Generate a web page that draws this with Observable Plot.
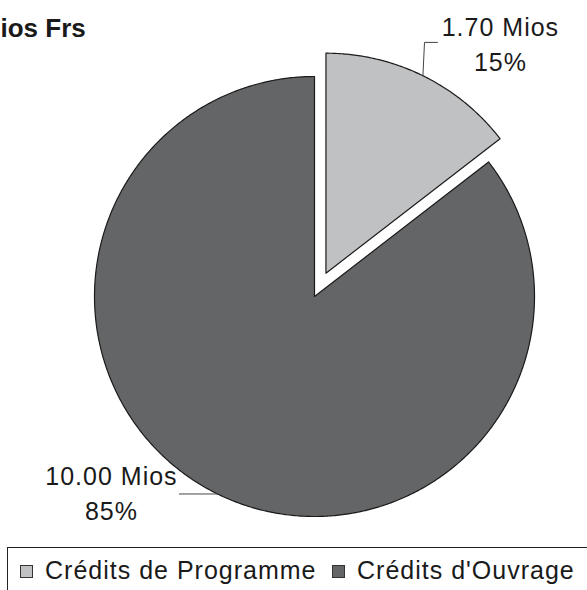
<!DOCTYPE html>
<html>
<head>
<meta charset="utf-8">
<script src="https://cdn.jsdelivr.net/npm/d3@7"></script>
<script src="https://cdn.jsdelivr.net/npm/@observablehq/plot@0.6"></script>
<style>
  html, body { margin: 0; padding: 0; background: #fff; }
  body { width: 587px; height: 590px; overflow: hidden; position: relative; font-family: "Liberation Sans", Arial, sans-serif; }
  #chart svg { display: block; font-family: "Liberation Sans", Arial, sans-serif; }
  #chart svg text { letter-spacing: 1px; }
  #chart svg g[font-weight="bold"] text { letter-spacing: 0; }
  #legend { position: absolute; left: 7px; top: 547px; width: 620px; height: 70px; border: 1px solid #222; box-sizing: border-box; }
  #legend .sw { position: absolute; top: 17px; width: 13px; height: 13px; border: 1px solid #333; box-sizing: border-box; }
  #legend .lt { position: absolute; top: 7px; font-size: 25px; line-height: 30px; letter-spacing: 1px; color: #1a1a1a; white-space: nowrap; }
</style>
</head>
<body>
<div id="chart"></div>
<div id="legend"></div>
<script>
// ---- data ----
const categories = ["Crédits de Programme", "Crédits d'Ouvrage"];
const values = [1.70, 10.00];
const valueLabels = ["1.70 Mios", "10.00 Mios"];
const explode = [true, false];
const title = "ios Frs";

// ---- styles ----
const colors = ["#c0c1c3", "#646567"];
const explodeDist = 0.118;

const total = d3.sum(values);
const pie = d3.pie().sort(null).startAngle(0).endAngle(2 * Math.PI)(values);

const polys = [];
const slices = pie.map((p, i) => {
  const m = (p.startAngle + p.endAngle) / 2;
  const ox = explode[i] ? explodeDist * Math.sin(m) : 0;
  const oy = explode[i] ? explodeDist * Math.cos(m) : 0;
  const pts = [{cat: categories[i], x: ox, y: oy}];
  const n = Math.ceil((p.endAngle - p.startAngle) / (Math.PI / 360));
  for (let k = 0; k <= n; k++) {
    const a = p.startAngle + (p.endAngle - p.startAngle) * k / n;
    pts.push({cat: categories[i], x: ox + Math.sin(a), y: oy + Math.cos(a)});
  }
  polys.push(...pts);
  return {i, m, ox, oy, edge: {x: ox + Math.sin(m), y: oy + Math.cos(m)}};
});

// label placement (data units relative to pie radius)
const labelPos = [{x: 0.845, y: 1.027}, {x: -0.923, y: -1.018}];
const leaderBends = [
  [{x: 0.5, y: 1.155}, {x: 0.559, y: 1.155}],
  [{x: -0.614, y: null}]
];

const leaders = [];
slices.forEach((s, i) => {
  leaders.push({id: i, x: s.edge.x, y: s.edge.y});
  leaderBends[i].forEach(b => leaders.push({id: i, x: b.x, y: b.y == null ? s.edge.y : b.y}));
});

const labels = categories.map((c, i) => ({
  x: labelPos[i].x, y: labelPos[i].y,
  text: valueLabels[i] + "\n" + Math.round(values[i] / total * 100) + "%"
}));

const chart = Plot.plot({
  width: 587,
  height: 545,
  margin: 0,
  x: {domain: [-1, 1], range: [94, 534], axis: null},
  y: {domain: [-1, 1], range: [516, 76], axis: null},
  color: {domain: categories, range: colors},
  marks: [
    Plot.line(polys, {x: "x", y: "y", z: "cat", fill: "cat", stroke: "#1a1a1a", strokeWidth: 1.2, curve: "linear-closed"}),
    Plot.line(leaders, {x: "x", y: "y", z: "id", stroke: "#444", strokeWidth: 1}),
    Plot.text(labels, {x: "x", y: "y", text: "text", fontSize: 25, lineHeight: 1.4, lineAnchor: "bottom", textAnchor: "middle", fill: "#1a1a1a"}),
    Plot.text([title], {frameAnchor: "top-left", dx: 0, dy: 36, text: d => d, textAnchor: "start", lineAnchor: "bottom", fontSize: 26, fontWeight: "bold", fill: "#1a1a1a"})
  ]
});
document.getElementById("chart").appendChild(chart);

// legend
const legend = document.getElementById("legend");
const swX = [12, 324];
const txX = [37, 349];
categories.forEach((c, i) => {
  const sw = document.createElement("div");
  sw.className = "sw";
  sw.style.left = swX[i] + "px";
  sw.style.background = colors[i];
  legend.appendChild(sw);
  const t = document.createElement("div");
  t.className = "lt";
  t.style.left = txX[i] + "px";
  t.textContent = c;
  legend.appendChild(t);
});
</script>
</body>
</html>
